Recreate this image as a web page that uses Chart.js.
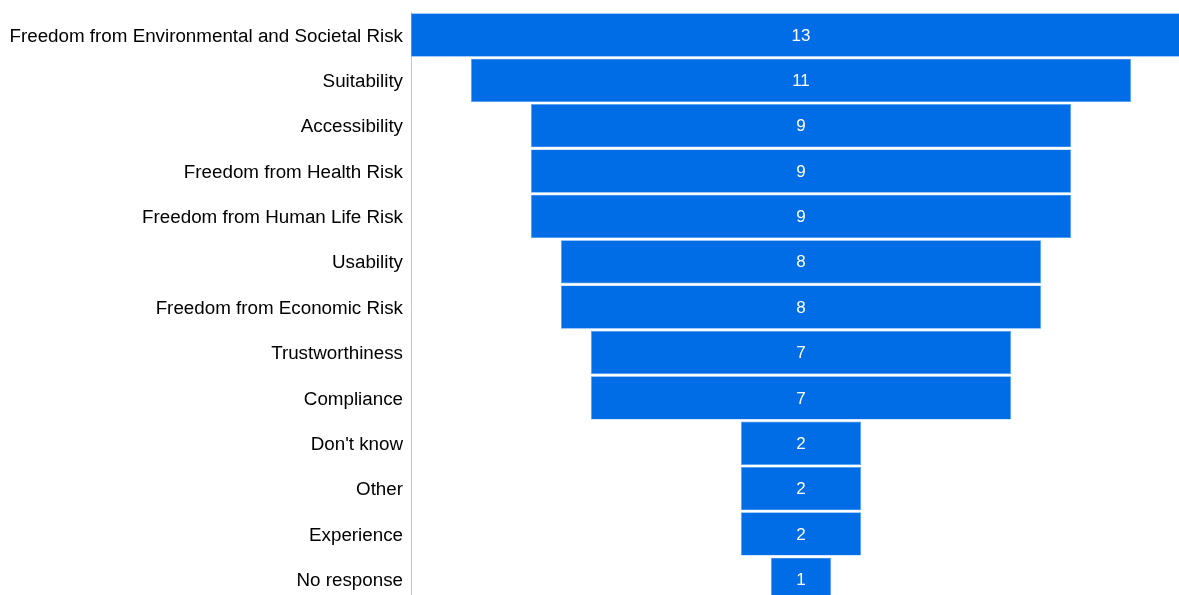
<!DOCTYPE html>
<html>
<head>
<meta charset="utf-8">
<script src="https://cdn.jsdelivr.net/npm/chart.js@4"></script>
<style>
  html, body { margin: 0; padding: 0; background: #fff; overflow: hidden; }
  canvas { display: block; }
</style>
</head>
<body>
<canvas id="myChart" width="1179" height="602"></canvas>
<script>
const categories = ['Freedom from Environmental and Societal Risk', 'Suitability', 'Accessibility',
  'Freedom from Health Risk', 'Freedom from Human Life Risk', 'Usability', 'Freedom from Economic Risk',
  'Trustworthiness', 'Compliance', "Don't know", 'Other', 'Experience', 'No response'];
const counts = [13, 11, 9, 9, 9, 8, 8, 7, 7, 2, 2, 2, 1];

// funnel: each bar floats symmetrically around zero
const spans = counts.map(v => [-v / 2, v / 2]);

const valueLabels = {
  id: 'valueLabels',
  afterDatasetsDraw(chart) {
    const ctx = chart.ctx;
    const meta = chart.getDatasetMeta(0);
    const x0 = chart.scales.x.getPixelForValue(0);
    ctx.save();
    ctx.fillStyle = '#ffffff';
    ctx.font = '17px "Liberation Sans", Arial, sans-serif';
    ctx.textAlign = 'center';
    ctx.textBaseline = 'middle';
    meta.data.forEach((bar, i) => {
      ctx.fillText(String(counts[i]), x0, bar.y + 1);
    });
    ctx.restore();
  }
};

const ctx = document.getElementById("myChart").getContext("2d");
const funnelChart = new Chart(ctx, {
  type: 'bar',
  data: {
    labels: categories,
    datasets: [{
      data: spans,
      backgroundColor: '#006ce6',
      borderColor: '#5aa8f5',
      borderWidth: 0.6,
      borderSkipped: false,
      barPercentage: 0.955,
      categoryPercentage: 1
    }]
  },
  options: {
    indexAxis: 'y',
    responsive: false,
    animation: false,
    layout: { padding: { top: 12.3, right: 0, bottom: 0, left: 0 } },
    plugins: {
      legend: { display: false },
      tooltip: { enabled: false }
    },
    scales: {
      x: {
        display: false,
        min: -6.5,
        max: 6.3
      },
      y: {
        afterFit(scale) {
          scale.width = 411;
          scale.paddingTop = 0;
          scale.paddingBottom = 0;
        },
        grid: { display: false, drawTicks: false },
        border: { display: true, color: '#c4c4c4', width: 1 },
        ticks: {
          color: '#000000',
          padding: 8,
          labelOffset: 1.5,
          font: { family: '"Liberation Sans", Arial, sans-serif', size: 18.8 }
        }
      }
    }
  },
  plugins: [valueLabels]
});
</script>
</body>
</html>
